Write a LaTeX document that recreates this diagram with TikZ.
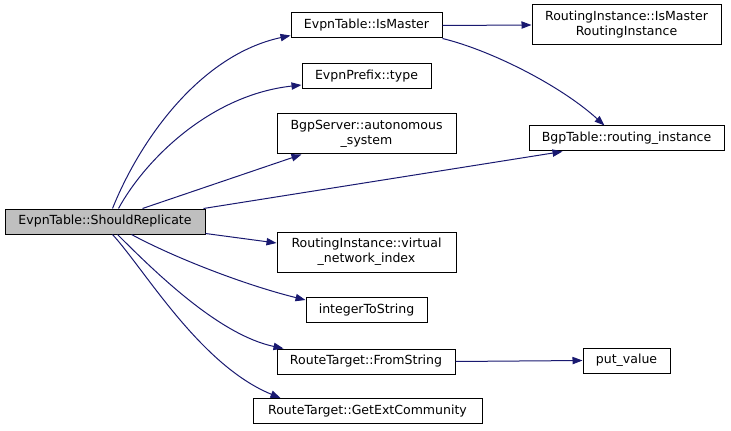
\documentclass[tikz,border=0pt]{standalone}
\usepackage{fontspec}
\setmainfont{DejaVu Sans}
\usetikzlibrary{arrows.meta,calc}
\definecolor{edgeblue}{HTML}{191970}
\definecolor{rootgray}{HTML}{BFBFBF}
\tikzset{
  fnbox/.style={draw=black, line width=0.75pt, fill=white, inner sep=0pt, align=center,
    font=\fontsize{9.4}{11.25}\selectfont, text=black, minimum height=18.75pt},
  rootbox/.style={fnbox, fill=rootgray},
  callarrow/.style={draw=edgeblue, line width=0.75pt, -{Triangle[length=7.5pt,width=5.5pt]}}
}
\begin{document}
\begin{tikzpicture}[x=0.75pt,y=-0.75pt]
\useasboundingbox (0,0) rectangle (731,431);
\node[rootbox, minimum width=150pt] (A) at (105,221.5) {EvpnTable::ShouldReplicate};
\node[fnbox, minimum width=113.25pt] (B) at (366.5,25.5) {EvpnTable::IsMaster};
\node[fnbox, minimum width=141.75pt, minimum height=30pt] (C) at (626.5,25) {RoutingInstance::IsMaster\\RoutingInstance};
\node[fnbox, minimum width=96.75pt] (D) at (366.5,76) {EvpnPrefix::type};
\node[fnbox, minimum width=134.25pt, minimum height=30pt] (E) at (366.5,134) {BgpServer::autonomous\\\_system};
\node[fnbox, minimum width=146.25pt] (F) at (626.5,138.5) {BgpTable::routing\_instance};
\node[fnbox, minimum width=134.25pt, minimum height=30pt] (G) at (366.5,252) {RoutingInstance::virtual\\\_network\_index};
\node[fnbox, minimum width=90.75pt] (H) at (366.5,310) {integerToString};
\node[fnbox, minimum width=133.5pt] (I) at (366,361.5) {RouteTarget::FromString};
\node[fnbox, minimum width=65.25pt] (J) at (626.5,360.5) {put\_value};
\node[fnbox, minimum width=171.75pt] (K) at (367.5,411) {RouteTarget::GetExtCommunity};

\draw[callarrow] ($(A.north west)+(108,0)$) .. controls (140,140) and (200,55) .. ($(B.south west)+(0,-3)$);
\draw[callarrow] ($(A.north west)+(114,0)$) .. controls (145,160) and (210,95) .. ($(D.south west)+(0,-4)$);
\draw[callarrow] ($(A.north west)+(138,0)$) -- ($(E.south west)+(25,0)$);
\draw[callarrow] ($(A.north east)+(-2,0)$) -- ($(F.south west)+(34,0)$);
\draw[callarrow] ($(A.south east)+(0,-1)$) -- ($(G.west)+(0,-9)$);
\draw[callarrow] ($(A.south west)+(127,0)$) .. controls (175,258) and (245,285) .. ($(H.north west)+(0,3)$);
\draw[callarrow] ($(A.south west)+(113,0)$) .. controls (158,275) and (220,335) .. ($(I.north west)+(7,0)$);
\draw[callarrow] ($(A.south west)+(108,0)$) .. controls (145,270) and (200,365) .. ($(K.north west)+(28,0)$);
\draw[callarrow] (B.east) -- (C.west);
\draw[callarrow] (B.south east) .. controls (490,50) and (560,85) .. ($(F.north west)+(76,0)$);
\draw[callarrow] (I.east) -- (J.west);
\end{tikzpicture}
\end{document}
